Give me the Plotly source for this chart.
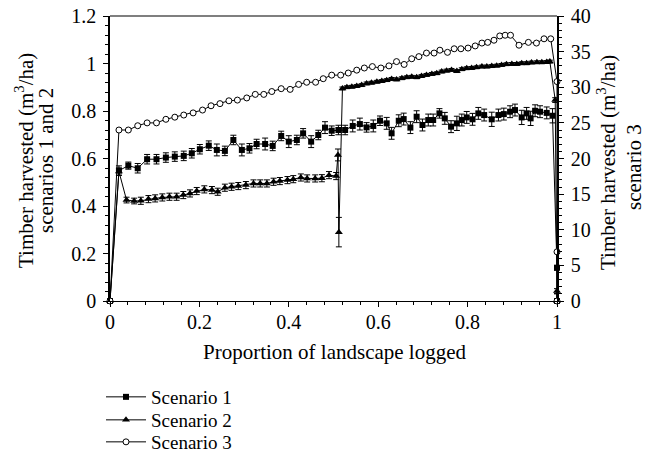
import plotly.graph_objects as go

# Scenario 1 (left axis, squares, with error bars)
x1 = [
    0, 0.02, 0.041, 0.062, 0.083, 0.104, 0.125, 0.145, 0.165, 0.183,
    0.201, 0.221, 0.239, 0.257, 0.276, 0.295, 0.312, 0.328, 0.347, 0.364,
    0.383, 0.4, 0.418, 0.432, 0.45, 0.466, 0.481, 0.496, 0.511, 0.526,
    0.543, 0.559, 0.574, 0.589, 0.604, 0.619, 0.63, 0.646, 0.657, 0.672,
    0.686, 0.699, 0.712, 0.723, 0.737, 0.749, 0.763, 0.776, 0.787, 0.798,
    0.811, 0.824, 0.837, 0.854, 0.869, 0.881, 0.895, 0.906, 0.921, 0.932,
    0.941, 0.951, 0.962, 0.977, 0.99, 1.0, 1.0]
y1 = [
    0, 0.549, 0.57, 0.559, 0.597, 0.597, 0.604, 0.608, 0.611, 0.622,
    0.639, 0.654, 0.636, 0.632, 0.678, 0.636, 0.643, 0.661, 0.661, 0.653,
    0.695, 0.671, 0.678, 0.706, 0.671, 0.699, 0.73, 0.717, 0.72, 0.72,
    0.737, 0.745, 0.731, 0.737, 0.759, 0.748, 0.706, 0.759, 0.766, 0.73,
    0.776, 0.741, 0.762, 0.762, 0.79, 0.769, 0.734, 0.748, 0.762, 0.773,
    0.765, 0.79, 0.783, 0.765, 0.783, 0.787, 0.797, 0.804, 0.773, 0.79,
    0.769, 0.801, 0.797, 0.792, 0.78, 0.14, 0]
e1 = [
    0, 0.02, 0.015, 0.02, 0.02, 0.02, 0.02, 0.02, 0.02, 0.02,
    0.02, 0.02, 0.025, 0.02, 0.02, 0.025, 0.02, 0.02, 0.025, 0.02,
    0.02, 0.025, 0.02, 0.02, 0.025, 0.02, 0.025, 0.02, 0.02, 0.02,
    0.025, 0.025, 0.02, 0.025, 0.02, 0.025, 0.025, 0.025, 0.025, 0.025,
    0.025, 0.025, 0.025, 0.025, 0.02, 0.025, 0.025, 0.03, 0.025, 0.025,
    0.025, 0.025, 0.025, 0.03, 0.025, 0.025, 0.025, 0.025, 0.03, 0.025,
    0.03, 0.025, 0.025, 0.025, 0.03, 0.01, 0.03]

# Scenario 2 (left axis, triangles, with error bars)
x2 = [
    0, 0.02, 0.037, 0.054, 0.069, 0.086, 0.101, 0.117, 0.133, 0.149,
    0.164, 0.179, 0.194, 0.211, 0.228, 0.241, 0.257, 0.272, 0.287, 0.304,
    0.321, 0.336, 0.351, 0.366, 0.38, 0.397, 0.41, 0.427, 0.441, 0.459,
    0.474, 0.49, 0.506, 0.51, 0.512, 0.52, 0.53, 0.541, 0.552, 0.563,
    0.574, 0.585, 0.597, 0.608, 0.619, 0.63, 0.641, 0.653, 0.664, 0.675,
    0.686, 0.697, 0.708, 0.72, 0.731, 0.742, 0.753, 0.764, 0.776, 0.787,
    0.798, 0.809, 0.82, 0.832, 0.843, 0.854, 0.865, 0.876, 0.887, 0.899,
    0.91, 0.921, 0.932, 0.943, 0.955, 0.966, 0.977, 0.984, 0.996, 1.0,
    1.0]
y2 = [
    0, 0.545, 0.425, 0.421, 0.422, 0.429, 0.432, 0.436, 0.439, 0.439,
    0.446, 0.453, 0.463, 0.47, 0.467, 0.46, 0.477, 0.481, 0.484, 0.488,
    0.495, 0.495, 0.495, 0.502, 0.505, 0.509, 0.513, 0.52, 0.516, 0.516,
    0.517, 0.53, 0.526, 0.615, 0.29, 0.895, 0.9, 0.902, 0.905, 0.909,
    0.916, 0.919, 0.923, 0.926, 0.93, 0.935, 0.933, 0.938, 0.942, 0.944,
    0.942, 0.947, 0.952, 0.956, 0.959, 0.966, 0.97, 0.973, 0.968, 0.976,
    0.98, 0.981, 0.984, 0.987, 0.987, 0.989, 0.991, 0.994, 0.997, 0.998,
    0.998, 1.001, 1.001, 1.004, 1.005, 1.005, 1.006, 1.008, 0.846, 0.042,
    0]
e2 = [
    0, 0.015, 0.012, 0.012, 0.015, 0.015, 0.015, 0.015, 0.015, 0.015,
    0.015, 0.015, 0.015, 0.015, 0.015, 0.015, 0.015, 0.015, 0.015, 0.015,
    0.015, 0.015, 0.015, 0.015, 0.015, 0.015, 0.015, 0.015, 0.015, 0.015,
    0.015, 0.015, 0.015, 0.025, 0.062, 0.006, 0.006, 0.006, 0.006, 0.006,
    0.006, 0.006, 0.006, 0.006, 0.006, 0.006, 0.006, 0.006, 0.006, 0.006,
    0.006, 0.006, 0.006, 0.006, 0.006, 0.006, 0.006, 0.006, 0.006, 0.006,
    0.006, 0.006, 0.006, 0.006, 0.006, 0.006, 0.006, 0.006, 0.006, 0.006,
    0.006, 0.006, 0.006, 0.006, 0.006, 0.006, 0.006, 0.006, 0.01, 0.01,
    0]

# Scenario 3 (right axis, open circles)
x3 = [
    0, 0.02, 0.041, 0.062, 0.083, 0.104, 0.125, 0.145, 0.165, 0.186,
    0.207, 0.226, 0.246, 0.266, 0.285, 0.306, 0.325, 0.344, 0.362, 0.383,
    0.403, 0.422, 0.44, 0.46, 0.477, 0.496, 0.516, 0.533, 0.552, 0.569,
    0.587, 0.606, 0.624, 0.641, 0.658, 0.675, 0.691, 0.708, 0.725, 0.738,
    0.755, 0.77, 0.785, 0.801, 0.817, 0.832, 0.845, 0.859, 0.872, 0.884,
    0.896, 0.915, 0.936, 0.954, 0.971, 0.986, 1.0, 1.0, 1.0]
y3 = [
    0, 24.0, 24.0, 24.6, 25.0, 25.0, 25.5, 25.8, 26.1, 26.4,
    26.8, 27.4, 27.7, 28.1, 28.2, 28.5, 29.0, 29.0, 29.4, 29.8,
    29.7, 30.4, 30.7, 30.7, 31.2, 31.7, 31.7, 32.0, 32.4, 32.7,
    32.9, 32.7, 33.0, 33.6, 33.2, 34.0, 34.3, 34.8, 34.8, 35.2,
    34.9, 35.4, 35.4, 35.5, 35.8, 36.2, 36.3, 36.6, 37.2, 37.3,
    37.3, 35.9, 36.3, 36.2, 36.8, 36.8, 30.8, 6.9, 0]

names = ["Scenario 1", "Scenario 2", "Scenario 3"]
x_title = "Proportion of landscape logged"
y_title_lines = ["Timber harvested (m<sup>3</sup>/ha)", "scenarios 1 and 2"]
y2_title_lines = ["Timber harvested (m<sup>3</sup>/ha)", "scenario 3"]

FONT = "Liberation Serif"
TICK_SIZE = 20
TITLE_SIZE = 21
YTITLE_SIZE = 21
LEGEND_SIZE = 19

fig = go.Figure()
err_style = dict(type="data", color="black", thickness=1, width=3)

fig.add_trace(go.Scatter(
    x=x1, y=y1, name=names[0], mode="lines+markers", legend="legend",
    showlegend=True,
    line=dict(color="black", width=1),
    marker=dict(symbol="square", size=6, color="black"),
    error_y=dict(array=e1, **err_style), cliponaxis=False))
fig.add_trace(go.Scatter(
    x=x2, y=y2, name=names[1], mode="lines+markers", legend="legend2",
    showlegend=True,
    line=dict(color="black", width=1),
    marker=dict(symbol="triangle-up", size=7, color="black"),
    error_y=dict(array=e2, **err_style), cliponaxis=False))
fig.add_trace(go.Scatter(
    x=x3, y=y3, name=names[2], mode="lines+markers", yaxis="y2",
    legend="legend3", showlegend=True,
    line=dict(color="black", width=1),
    marker=dict(symbol="circle", size=6, color="white",
                line=dict(color="black", width=1)),
    cliponaxis=False))

H = 454.0
W = 651.0


def legend_at(row_y):
    return dict(xref="container", yref="container", x=101 / W,
                y=1 - row_y / H, xanchor="left", yanchor="middle",
                font=dict(family=FONT, size=LEGEND_SIZE, color="black"),
                bgcolor="rgba(0,0,0,0)", itemwidth=40)


axis_common = dict(ticks="outside", tickcolor="black", showline=True,
                   linecolor="black", showgrid=False, zeroline=False,
                   tickfont=dict(family=FONT, size=TICK_SIZE, color="black"))

fig.update_layout(
    width=651, height=454,
    margin=dict(l=110, r=94, t=16, b=153, autoexpand=False),
    paper_bgcolor="white", plot_bgcolor="white",
    font=dict(family=FONT, size=TICK_SIZE, color="black"),
    showlegend=True,
    legend=legend_at(397), legend2=legend_at(420), legend3=legend_at(442),
    xaxis=dict(range=[0, 1], tick0=0, dtick=0.2, ticklen=5, linewidth=1,
               mirror=False, ticklabelstandoff=-2,
               minor=dict(dtick=0.04, ticks="outside", ticklen=3,
                          tickcolor="black"),
               **axis_common),
    yaxis=dict(range=[0, 1.2], tick0=0, dtick=0.2, ticklen=5, linewidth=1.5,
               ticklabelstandoff=3,
               minor=dict(dtick=0.04, ticks="outside", ticklen=3,
                          tickcolor="black"),
               **axis_common),
    yaxis2=dict(range=[0, 40], tick0=0, dtick=5, overlaying="y", side="right",
                anchor="x", ticklen=5, linewidth=1.5, ticklabelstandoff=3,
                minor=dict(dtick=1, ticks="outside", ticklen=3,
                           tickcolor="black"),
                **axis_common),
)

# grey top frame line of the plot area
fig.add_shape(type="line", xref="paper", yref="paper", x0=0, x1=1, y0=1, y1=1,
              line=dict(color="#555555", width=1.5), layer="above")

# axis titles as text annotations (two separate lines for tight spacing)
pw = 447.0
ph = 285.0


def px_x(px):
    return (px - 110) / pw


def px_y(py):
    return (301 - py) / ph


fig.add_annotation(text=x_title, xref="paper", yref="paper",
                   x=px_x(335), y=px_y(352), showarrow=False,
                   xanchor="center", yanchor="middle",
                   font=dict(family=FONT, size=TITLE_SIZE, color="black"))
for txt, cx, cy in [(y_title_lines[0], 24, 161), (y_title_lines[1], 46, 161),
                    (y2_title_lines[0], 606, 163), (y2_title_lines[1], 634, 167)]:
    fig.add_annotation(text=txt, xref="paper", yref="paper",
                       x=px_x(cx), y=px_y(cy), showarrow=False, textangle=-90,
                       xanchor="center", yanchor="middle",
                       font=dict(family=FONT, size=YTITLE_SIZE, color="black"))

fig.write_html("out.html", config={"displayModeBar": False},
               post_script="document.body.style.margin='0';")
